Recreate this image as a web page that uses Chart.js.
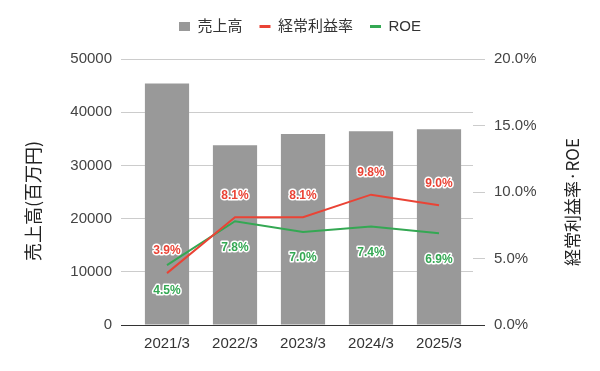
<!DOCTYPE html>
<html>
<head>
<meta charset="utf-8">
<script src="https://cdn.jsdelivr.net/npm/chart.js@4/dist/chart.umd.min.js"></script>
<style>
  html, body { margin: 0; padding: 0; background: #fff; }
  #wrap { width: 600px; height: 371px; position: relative; }
</style>
</head>
<body>
<div id="wrap"><canvas id="chart"></canvas></div>
<script>
// ── Data ──────────────────────────────────────────────────────────────────────
const years       = ["2021/3", "2022/3", "2023/3", "2024/3", "2025/3"];
const sales       = [45400, 33800, 35900, 36400, 36800];   // 百万円
const ordinaryMgn = [3.9, 8.1, 8.1, 9.8, 9.0];             // %
const roe         = [4.5, 7.8, 7.0, 7.4, 6.9];             // %

const salesTicks = { min: 0, max: 50000, step: 10000 };
const pctTicks   = { min: 0, max: 20, step: 5 };

const GRAY  = "#999999";
const RED   = "#ea4335";
const GREEN = "#34a853";
const FONT  = "'Liberation Sans', 'Noto Sans CJK JP', sans-serif";
const CJK   = "'Noto Sans CJK JP', sans-serif";

Chart.defaults.font.family = FONT;
Chart.defaults.font.size = 15;
Chart.defaults.color = "#444";

const gridColor = c => (c.tick && c.tick.value === 0) ? "#333" : "#cccccc";

// value labels on the line points, white halo like the sheet chart
const pointLabels = {
  id: "pointLabels",
  afterDatasetsDraw(chart) {
    const ctx = chart.ctx;
    chart.data.datasets.forEach((ds, i) => {
      if (ds.type !== "line") return;
      const meta = chart.getDatasetMeta(i);
      ctx.save();
      ctx.font = "bold 12px " + FONT;
      ctx.textAlign = "center";
      ctx.textBaseline = "middle";
      ctx.lineJoin = "round";
      ctx.lineWidth = 3;
      ctx.strokeStyle = "#fff";
      ctx.fillStyle = ds.borderColor;
      meta.data.forEach((pt, j) => {
        const txt = ds.data[j].toFixed(1) + "%";
        const y = pt.y + ds.labelOffset;
        ctx.strokeText(txt, pt.x, y);
        ctx.fillText(txt, pt.x, y);
      });
      ctx.restore();
    });
  },
};

// axis titles (both read bottom-to-top) + legend spacing
const axisTitles = {
  id: "axisTitles",
  beforeInit(chart) {
    const fit = chart.legend.fit;
    chart.legend.fit = function () { fit.call(this); this.height = 57; };
  },
  afterDraw(chart) {
    const ctx = chart.ctx;
    const draw = (text, x, y, size) => {
      ctx.save();
      ctx.translate(x, y);
      ctx.rotate(-Math.PI / 2);
      ctx.font = size + "px " + CJK;
      ctx.fillStyle = "#222";
      ctx.textAlign = "center";
      ctx.textBaseline = "middle";
      ctx.fillText(text, 0, 0);
      ctx.restore();
    };
    draw("売上高(百万円)", 33, 201, 18);
    draw("経常利益率·ROE", 573, 202, 17);
  },
};

const ctx = document.getElementById("chart").getContext("2d");
new Chart(ctx, {
  data: {
    labels: years,
    datasets: [
      {
        type: "bar",
        label: "売上高",
        data: sales,
        backgroundColor: GRAY,
        categoryPercentage: 0.65,
        barPercentage: 1.0,
        yAxisID: "y",
        order: 2,
      },
      {
        type: "line",
        label: "経常利益率",
        data: ordinaryMgn,
        borderColor: RED,
        backgroundColor: RED,
        borderWidth: 2,
        pointRadius: 0,
        tension: 0,
        yAxisID: "y1",
        order: 0,
        labelOffset: -22,
      },
      {
        type: "line",
        label: "ROE",
        data: roe,
        borderColor: GREEN,
        backgroundColor: GREEN,
        borderWidth: 2,
        pointRadius: 0,
        tension: 0,
        yAxisID: "y1",
        order: 1,
        labelOffset: 26,
      },
    ],
  },
  options: {
    responsive: true,
    maintainAspectRatio: false,
    animation: false,
    layout: { padding: { top: 2, left: 0, right: 0, bottom: 0 } },
    plugins: {
      tooltip: { enabled: false },
      legend: {
        position: "top",
        labels: {
          color: "#333",
          font: { size: 15, family: FONT },
          usePointStyle: true,
          pointStyleWidth: 11,
          boxHeight: 9,
          padding: 17,
          generateLabels: chart => chart.data.datasets.map((ds, i) => ({
            text: ds.label,
            fillStyle: ds.type === "bar" ? ds.backgroundColor : ds.borderColor,
            strokeStyle: ds.type === "bar" ? ds.backgroundColor : ds.borderColor,
            lineWidth: ds.type === "bar" ? 0 : 3,
            pointStyle: ds.type === "bar" ? "rect" : "line",
            fontColor: "#333",
            hidden: false,
            datasetIndex: i,
          })),
        },
      },
    },
    scales: {
      x: {
        grid: { display: false, drawTicks: false },
        border: { display: false },
        ticks: { color: "#333", padding: 10, font: { size: 15 } },
        afterFit: s => { s.height = 46; },
      },
      y: {
        position: "left",
        min: salesTicks.min,
        max: salesTicks.max,
        ticks: { stepSize: salesTicks.step, padding: 9, color: "#444",
                 callback: v => String(v) },
        grid: { color: gridColor, tickColor: gridColor, tickLength: 12 },
        border: { display: false },
        afterFit: s => { s.width = 133; },
      },
      y1: {
        position: "right",
        min: pctTicks.min,
        max: pctTicks.max,
        ticks: { stepSize: pctTicks.step, padding: 9, color: "#444",
                 callback: v => v.toFixed(1) + "%" },
        grid: { drawOnChartArea: false, color: gridColor, tickColor: gridColor, tickLength: 12 },
        border: { display: false },
        afterFit: s => { s.width = 127; },
      },
    },
  },
  plugins: [pointLabels, axisTitles],
});
</script>
</body>
</html>
